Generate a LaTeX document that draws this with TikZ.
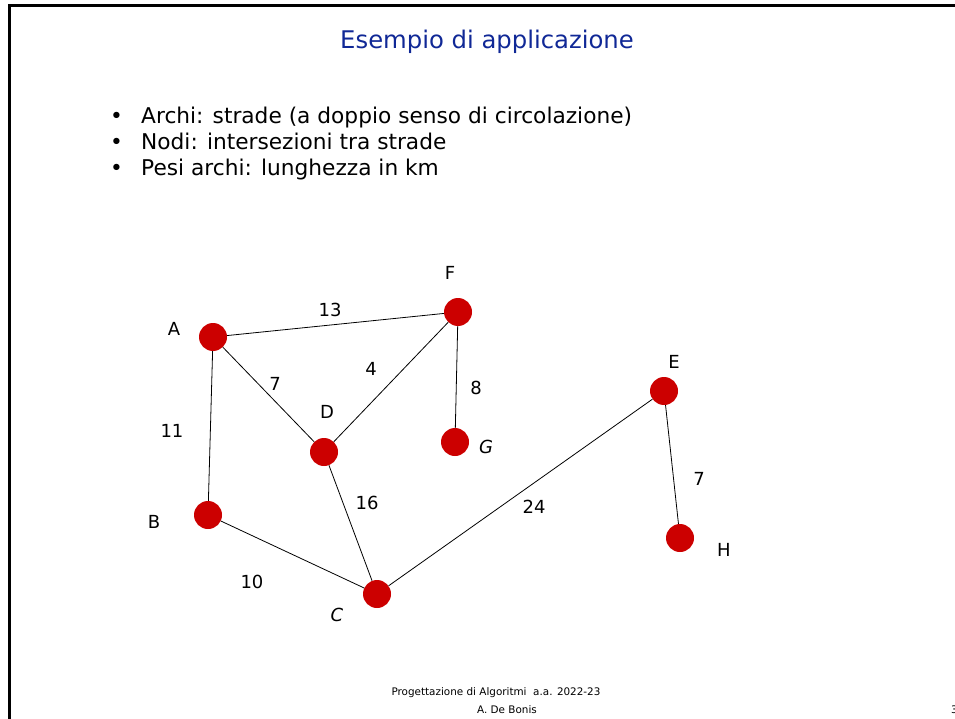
\documentclass[tikz,border=0pt]{standalone}
\usepackage{fontspec}
\setmainfont{DejaVu Sans}
\definecolor{vred}{RGB}{204,0,0}
\definecolor{tblue}{RGB}{16,40,150}
\begin{document}
\begin{tikzpicture}[x=1pt,y=-1pt,
  vtx/.style={circle,fill=vred,minimum size=28pt,inner sep=0pt},
  lbl/.style={font=\fontsize{18}{18}\selectfont,inner sep=0pt},
  edge/.style={line width=0.8pt,black},
  bullet/.style={anchor=base west,inner sep=0pt,font=\fontsize{21.7}{21.7}\selectfont}]
\useasboundingbox (0,0) rectangle (955,719);
\draw[line width=2.6pt] (9.5,740) -- (9.5,5.5) -- (970,5.5);
% title
\node[font=\fontsize{24.3}{24.3}\selectfont,text=tblue,inner sep=0pt] (title) at (487,42) {Esempio di applicazione};
% bullets
\node[bullet] (b1) at (110,124) {•};
\node[bullet] (t1) at (141,124) {Archi: strade (a doppio senso di circolazione)};
\node[bullet] (b2) at (110,150) {•};
\node[bullet] (t2) at (141,150) {Nodi: intersezioni tra strade};
\node[bullet] (b3) at (110,176) {•};
\node[bullet] (t3) at (141,176) {Pesi archi: lunghezza in km};
% vertices
\node[vtx] (A) at (213,337) {};
\node[vtx] (F) at (458,312) {};
\node[vtx] (D) at (324,452) {};
\node[vtx] (G) at (455,442) {};
\node[vtx] (B) at (208,515) {};
\node[vtx] (C) at (377,594) {};
\node[vtx] (E) at (664,391) {};
\node[vtx] (H) at (680,538) {};
% edges
\draw[edge] (A) -- (F);
\draw[edge] (A) -- (D);
\draw[edge] (A) -- (B);
\draw[edge] (F) -- (D);
\draw[edge] (F) -- (G);
\draw[edge] (D) -- (C);
\draw[edge] (B) -- (C);
\draw[edge] (C) -- (E);
\draw[edge] (E) -- (H);
% vertex labels
\node[lbl] (lA) at (174,329) {A};
\node[lbl] (lF) at (450,273) {F};
\node[lbl] (lD) at (327,412) {D};
\node[lbl] (lG) at (486,447) {\itshape G};
\node[lbl] (lB) at (154,522) {B};
\node[lbl] (lC) at (337,615) {\itshape C};
\node[lbl] (lE) at (674,362) {E};
\node[lbl] (lH) at (724,550) {H};
% weights
\node[lbl] (w13) at (330,310) {13};
\node[lbl] (w4) at (371,369) {4};
\node[lbl] (w7a) at (275,384) {7};
\node[lbl] (w8) at (476,388) {8};
\node[lbl] (w11) at (172,431) {11};
\node[lbl] (w10) at (252,582) {10};
\node[lbl] (w16) at (367,503) {16};
\node[lbl] (w24) at (534,507) {24};
\node[lbl] (w7b) at (699,479) {7};
% footer
\node[font=\fontsize{10.4}{10.4}\selectfont,inner sep=0pt] (foot1) at (496,693) {Progettazione di Algoritmi\ \ a.a. 2022-23};
\node[font=\fontsize{10.4}{10.4}\selectfont,inner sep=0pt] (foot2) at (507,710) {A. De Bonis};
\node[font=\fontsize{10.4}{10.4}\selectfont,inner sep=0pt,anchor=west] (page) at (951,710) {3};
\end{tikzpicture}
\end{document}
